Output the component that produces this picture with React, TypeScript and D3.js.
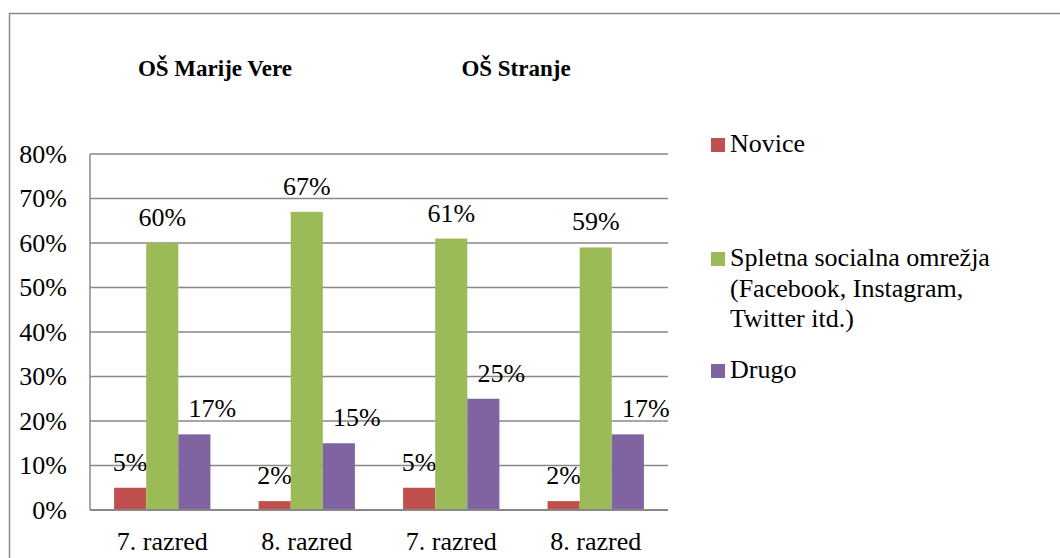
import React from "react";
import * as d3 from "d3";

const categories = ["7. razred", "8. razred", "7. razred", "8. razred"];
const seriesNames = ["Novice", "Spletna socialna omrežja (Facebook, Instagram, Twitter itd.)", "Drugo"];
const novice = [5, 2, 5, 2];
const spletna = [60, 67, 61, 59];
const drugo = [17, 15, 25, 17];
const yTicks = [0, 10, 20, 30, 40, 50, 60, 70, 80];
const groupTitles = ["OŠ Marije Vere", "OŠ Stranje"];
const legendLines = [["Novice"], ["Spletna socialna omrežja", "(Facebook, Instagram,", "Twitter itd.)"], ["Drugo"]];

const colors = ["#C0504D", "#9BBB59", "#8064A2"];
const values = [novice, spletna, drugo];
const labelDx = [0, 0, 18];

export default function App() {
  const W = 1060, H = 558;
  const left = 90, right = 668, top = 154, bottom = 510;
  const fs = 26;
  const x0 = d3.scaleBand<number>().domain(categories.map((_, i) => i)).range([left, right]);
  const x1 = d3.scaleBand<number>().domain([0, 1, 2]).range([0, x0.bandwidth()]).paddingInner(0).paddingOuter(0.75);
  const y = d3.scaleLinear().domain([0, 80]).range([bottom, top]);
  const grid = "#888888";
  const legendY = [152, 266, 378];
  const ts = { fontFamily: '"Liberation Serif"' } as React.CSSProperties;
  return (
    <svg width={W} height={H} style={{ position: "absolute", left: 0, top: 0, background: "#fff" }}>
      <rect x={0} y={0} width={W} height={H} fill="#fff" />
      <path d={`M9.5,${H} V13.5 H${W}`} fill="none" stroke="#8a8a8a" strokeWidth={1.5} />
      <text style={ts} x={215} y={76} textAnchor="middle" fontWeight="bold" fontSize={23}>{groupTitles[0]}</text>
      <text style={ts} x={516} y={76} textAnchor="middle" fontWeight="bold" fontSize={23}>{groupTitles[1]}</text>
      {yTicks.map((t) => (
        <g key={t}>
          {t > 0 && <line x1={left} x2={right} y1={y(t)} y2={y(t)} stroke={grid} strokeWidth={1.5} />}
          <text style={ts} x={67} y={y(t)} dy="0.34em" textAnchor="end" fontSize={fs}>{t + "%"}</text>
        </g>
      ))}
      {categories.map((c, ci) => (
        <g key={ci}>
          {values.map((vals, si) => {
            const bx = (x0(ci) as number) + (x1(si) as number);
            const v = vals[ci];
            return (
              <g key={si}>
                <rect x={bx} y={y(v)} width={x1.bandwidth()} height={bottom - y(v)} fill={colors[si]} />
                <text style={ts} x={bx + x1.bandwidth() / 2 + labelDx[si]} y={y(v) - 17} textAnchor="middle" fontSize={fs}>{v + "%"}</text>
              </g>
            );
          })}
          <text style={ts} x={(x0(ci) as number) + x0.bandwidth() / 2} y={550} textAnchor="middle" fontSize={fs}>{c}</text>
        </g>
      ))}
      <line x1={left} x2={left} y1={top} y2={bottom} stroke={grid} strokeWidth={1.5} />
      <line x1={left} x2={right} y1={bottom} y2={bottom} stroke={grid} strokeWidth={2} />
      {legendLines.map((lines, si) => (
        <g key={si}>
          <rect x={711} y={legendY[si] - 14} width={14} height={14} fill={colors[si]} />
          {lines.map((l, li) => (
            <text style={ts} key={li} x={730} y={legendY[si] + li * 30.5} fontSize={fs}>{l}</text>
          ))}
        </g>
      ))}
    </svg>
  );
}
